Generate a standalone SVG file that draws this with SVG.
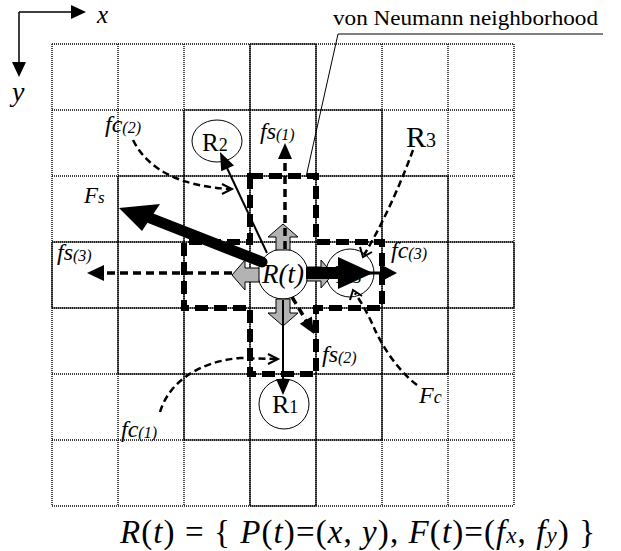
<svg xmlns="http://www.w3.org/2000/svg" width="621" height="551" viewBox="0 0 621 551">
<style>
text{font-family:"Liberation Serif","Times New Roman",serif;fill:#000}
.it{font-style:italic}
.lab{font-style:italic;font-size:24px}
.sub{font-style:italic;font-size:16px}
.dot{fill:none;stroke:#000;stroke-width:1.4;stroke-dasharray:1 1}
.sol{fill:none;stroke:#000;stroke-width:1.2}
.vn{fill:none;stroke:#000;stroke-width:6;stroke-dasharray:13 6}
.dsh{fill:none;stroke:#000;stroke-width:3.5;stroke-dasharray:8 5}
.crv{fill:none;stroke:#000;stroke-width:2.5;stroke-dasharray:7 4}
.chev{fill:none;stroke:#000;stroke-width:2}
.thin{fill:none;stroke:#000;stroke-width:2}
.gray{fill:#b3b3b3;stroke:#000;stroke-width:1}
.node{fill:#fff;stroke:#000;stroke-width:1}
</style>
<rect width="621" height="551" fill="#fff"/>
<g id="grid">
<path class="dot" d="M52,44V506M118,44V506M184,44V506M250,44V506M316,44V506M382,44V506M448,44V506M514,44V506M52,44H514M52,110H514M52,176H514M52,242H514M52,308H514M52,374H514M52,440H514M52,506H514"/>
<path class="sol" d="M250,44H316M184,110H382M118,176H448M52,242H514M52,308H514M118,374H448M184,440H382M250,506H316M52,242V308M118,176V374M184,110V440M250,44V506M316,44V506M382,110V440M448,176V374M514,242V308"/>
</g>
<g id="axes">
<path d="M19,12H73M19,12V63" fill="none" stroke="#000" stroke-width="1.5"/>
<polygon points="86,12 71,5 71,19" fill="#000"/>
<polygon points="19,77 12,62 26,62" fill="#000"/>
<text x="97" y="23" class="it" font-size="25">x</text>
<text x="12" y="101" class="it" font-size="28">y</text>
</g>
<g id="von-neumann">
<path class="vn" d="M250,176H316V242H382V308H316V374H250V308H184V242H250Z"/>
<path d="M603,34H338L306,177" fill="none" stroke="#000" stroke-width="1"/>
<text x="333" y="25" font-size="21" textLength="265" lengthAdjust="spacingAndGlyphs">von Neumann neighborhood</text>
</g>
<g id="R3">
<circle class="node" cx="350" cy="273" r="24"/>
<text x="335" y="283" font-size="26">R<tspan font-size="18">3</tspan></text>
</g>
<g id="R2">
<ellipse class="node" cx="217" cy="141" rx="25" ry="21"/>
<text x="202" y="151" font-size="25">R<tspan font-size="18">2</tspan></text>
</g>
<g id="R1">
<circle class="node" cx="284" cy="404" r="25"/>
<text x="272" y="413" font-size="26">R<tspan font-size="18">1</tspan></text>
</g>
<g id="Rt">
<circle class="node" cx="283" cy="274" r="25"/>
<text x="262" y="283" class="it" font-size="27">R(t)</text>
</g>
<g id="connectors">
<polygon class="gray" points="283,224 298,237 290,237 290,250 276,250 276,237 268,237"/>
<polygon class="gray" points="283,326 298,313 290,313 290,299 276,299 276,313 268,313"/>
<polygon class="gray" points="232,275 245,260 245,268 259,268 259,282 245,282 245,290"/>
<polygon class="gray" points="333,274 321,260 321,267 307,267 307,281 321,281 321,288"/>
<path class="dsh" d="M285,249V157"/>
<polygon points="285,143 292,159 278,159" fill="#000"/>
<path class="dsh" d="M232,273H102"/>
<polygon points="87,273 104,265 104,281" fill="#000"/>
<path class="dsh" d="M292,297L307,322"/>
<polygon points="314,334 299.8,323.8 311.8,316.6" fill="#000"/>
<path class="thin" d="M283,300V381"/>
<polygon points="283,395 276,379 290,379" fill="#000"/>
<path class="thin" d="M267,253L227,168"/>
<polygon points="220,152 234,165.4 221.2,171.3" fill="#000"/>
<path d="M262,262L150,218" fill="none" stroke="#000" stroke-width="11" stroke-linecap="round"/>
<polygon points="119,208 160,204 142,231" fill="#000"/>
<rect x="306" y="267" width="34" height="12" fill="#000"/>
<polygon points="338,257 373,273 338,289" fill="#000"/>
<path d="M330,273H382" fill="none" stroke="#000" stroke-width="3"/>
<polygon points="397,273 380,264 380,282" fill="#000"/>
<path class="crv" d="M133,140C148,170 180,186 230,189"/>
<path class="chev" d="M222,184L232,189L222,194"/>
<path class="crv" d="M160,412C168,385 195,362 240,358L276,359"/>
<path class="chev" d="M268,354L278,359L268,364"/>
<path class="crv" d="M417,385C397,370 382,345 375,330C370,318 363,305 355,293"/>
<path class="chev" d="M350,300L353,290L362,296"/>
<path class="crv" d="M413,150C402,180 385,220 364,255"/>
<path class="chev" d="M360,247L363,257L372,252"/>
</g>
<g id="labels">
<text x="105" y="132" class="lab">fc<tspan class="sub" dy="1">(2)</tspan></text>
<text x="84" y="203" class="it" font-size="23">F<tspan font-size="17">s</tspan></text>
<text x="57" y="260" class="lab">fs<tspan class="sub" dy="1">(3)</tspan></text>
<text x="391" y="258" class="lab">fc<tspan class="sub" dy="1">(3)</tspan></text>
<text x="260" y="139" class="lab">fs<tspan class="sub" dy="1">(1)</tspan></text>
<text x="322" y="362" class="lab">fs<tspan class="sub" dy="1">(2)</tspan></text>
<text x="419" y="403" class="it" font-size="24">F<tspan font-size="18">c</tspan></text>
<text x="121" y="437" class="lab">fc<tspan class="sub" dy="1">(1)</tspan></text>
<text x="406" y="147" font-size="30">R<tspan font-size="20">3</tspan></text>
</g>
<g id="formula">
<text x="120" y="543" font-size="33" textLength="475" lengthAdjust="spacing"><tspan class="it">R</tspan>(<tspan class="it">t</tspan>) = { <tspan class="it">P</tspan>(<tspan class="it">t</tspan>)=(<tspan class="it">x</tspan>, <tspan class="it">y</tspan>), <tspan class="it">F</tspan>(<tspan class="it">t</tspan>)=(<tspan class="it">f</tspan><tspan class="it" font-size="23">x</tspan>, <tspan class="it">f</tspan><tspan class="it" font-size="23">y</tspan>) }</text>
</g>
</svg>
